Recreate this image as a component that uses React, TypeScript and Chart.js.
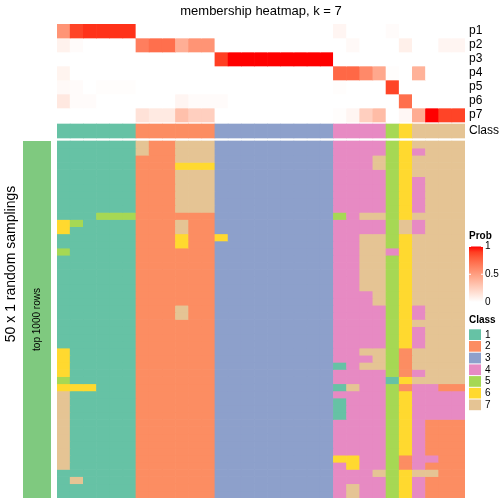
import React, { useEffect, useRef } from "react";
import { Chart, registerables } from "chart.js";

Chart.register(...registerables);

// ---------------- data ----------------
const sampleIds: string[] = [
  "s1", "s2", "s3", "s4", "s5", "s6", "s7", "s8", "s9", "s10", "s11",
  "s12", "s13", "s14", "s15", "s16", "s17", "s18", "s19", "s20", "s21",
  "s22", "s23", "s24", "s25", "s26", "s27", "s28", "s29", "s30", "s31",
];

const probLabels = ["p1", "p2", "p3", "p4", "p5", "p6", "p7"];

const p1 = [0.55, 0.88, 0.93, 0.93, 0.93, 0.93, 0, 0, 0, 0, 0, 0, 0, 0, 0, 0, 0, 0, 0, 0, 0, 0.05, 0, 0, 0, 0.02, 0, 0, 0, 0, 0];
const p2 = [0.07, 0.02, 0, 0, 0, 0, 0.65, 0.72, 0.72, 0.42, 0.55, 0.55, 0, 0, 0, 0, 0, 0, 0, 0, 0, 0, 0.03, 0, 0, 0, 0.08, 0, 0, 0.05, 0.05];
const p3 = [0, 0, 0, 0, 0, 0, 0, 0, 0, 0, 0, 0, 0.9, 1, 1, 1, 1, 1, 1, 1, 1, 0, 0, 0, 0, 0, 0, 0, 0, 0, 0];
const p4 = [0.06, 0, 0, 0, 0, 0, 0, 0, 0, 0, 0, 0, 0, 0, 0, 0, 0, 0, 0, 0, 0, 0.75, 0.75, 0.6, 0.45, 0.01, 0, 0.4, 0, 0, 0];
const p5 = [0.03, 0.02, 0, 0.01, 0.01, 0.01, 0, 0, 0, 0, 0, 0, 0, 0, 0, 0, 0, 0, 0, 0, 0, 0.01, 0, 0, 0, 0.88, 0, 0, 0, 0, 0];
const p6 = [0.12, 0.02, 0.02, 0, 0, 0, 0, 0, 0, 0.05, 0.02, 0.02, 0.02, 0, 0, 0, 0, 0, 0, 0, 0, 0, 0, 0, 0, 0, 0.72, 0, 0, 0, 0];
const p7 = [0, 0, 0, 0, 0, 0, 0.15, 0.11, 0.11, 0.33, 0.25, 0.25, 0, 0, 0, 0, 0, 0, 0, 0, 0, 0.01, 0.05, 0.25, 0.35, 0, 0.04, 0.43, 1, 0.88, 0.88];

const classAnno = [1, 1, 1, 1, 1, 1, 2, 2, 2, 2, 2, 2, 3, 3, 3, 3, 3, 3, 3, 3, 3, 4, 4, 4, 4, 5, 6, 7, 7, 7, 7];

// 50 random samplings (rows) x 31 samples (columns): predicted class per cell
const samplings: string[] = [
  "1111117227773333333334444567777",
  "1111117227773333333334444564777",
  "1111112227773333333334447567777",
  "1111112226663333333334447567777",
  "1111112227773333333334444567777",
  "1111112227773333333334444564777",
  "1111112227773333333334444564777",
  "1111112227773333333334444564777",
  "1111112227773333333334444564777",
  "1111112227773333333334444564777",
  "1115552222223333333335477567777",
  "6511112227223333333334444574777",
  "6111112227223333333334444574777",
  "1111112226226333333334477567777",
  "1111112226223333333334477567777",
  "5111112222223333333334477467777",
  "1111112222223333333334477567777",
  "1111112222223333333334477567777",
  "1111112222223333333334477567777",
  "1111112222223333333334477567777",
  "1111112222223333333334477567777",
  "1111112222223333333334447567777",
  "1111112222223333333334447567777",
  "1111112227223333333334444564777",
  "1111112227223333333334444564777",
  "1111112222223333333334444567777",
  "1111112222223333333334444564777",
  "1111112222223333333334444564777",
  "1111112222223333333334444564777",
  "6111112222223333333334477527777",
  "6111112222223333333334447527777",
  "6111112222223333333331477527777",
  "6111112222223333333334444524777",
  "5111112222223333333334444167777",
  "6661112222223333333331744524422",
  "7111112222223333333334444564444",
  "7111112222223333333331444564444",
  "7111112222223333333331444564444",
  "7111112222223333333331444564444",
  "7111112222223333333334444564222",
  "7111112222223333333334444564222",
  "7111112222223333333334444564222",
  "7111112222223333333334444564222",
  "7111112222223333333334444564222",
  "7111112222223333333336644524422",
  "7111112222223333333334644524222",
  "1111112222223333333334447567722",
  "1711112222223333333334444564222",
  "1111112222223333333334744564222",
  "1111112222223333333334744564222",
];

const classNames = ["1", "2", "3", "4", "5", "6", "7"];
const classColors = ["#66C2A5", "#FC8D62", "#8DA0CB", "#E78AC3", "#A6D854", "#FFD92F", "#E5C494"];
const probTicks = [1, 0.5, 0];

// ---------------- colour helpers (white -> red in LAB) ----------------
function lin(c: number) {
  c /= 255;
  return c <= 0.04045 ? c / 12.92 : Math.pow((c + 0.055) / 1.055, 2.4);
}
function unlin(c: number) {
  const v = c <= 0.0031308 ? 12.92 * c : 1.055 * Math.pow(c, 1 / 2.4) - 0.055;
  return Math.max(0, Math.min(255, Math.round(v * 255)));
}
function rgbToLab(r: number, g: number, b: number) {
  const R = lin(r), G = lin(g), B = lin(b);
  const X = (0.4124 * R + 0.3576 * G + 0.1805 * B) / 0.95047;
  const Y = 0.2126 * R + 0.7152 * G + 0.0722 * B;
  const Z = (0.0193 * R + 0.1192 * G + 0.9505 * B) / 1.08883;
  const f = (t: number) => (t > 0.008856 ? Math.cbrt(t) : 7.787 * t + 16 / 116);
  const fx = f(X), fy = f(Y), fz = f(Z);
  return [116 * fy - 16, 500 * (fx - fy), 200 * (fy - fz)];
}
function labToRgb(L: number, a: number, b: number) {
  const fy = (L + 16) / 116, fx = fy + a / 500, fz = fy - b / 200;
  const inv = (t: number) => (t * t * t > 0.008856 ? t * t * t : (t - 16 / 116) / 7.787);
  const X = inv(fx) * 0.95047, Y = inv(fy), Z = inv(fz) * 1.08883;
  const R = 3.2406 * X - 1.5372 * Y - 0.4986 * Z;
  const G = -0.9689 * X + 1.8758 * Y + 0.0415 * Z;
  const B = 0.0557 * X - 0.204 * Y + 1.057 * Z;
  return `rgb(${unlin(R)},${unlin(G)},${unlin(B)})`;
}
const LAB_WHITE = rgbToLab(255, 255, 255);
const LAB_RED = rgbToLab(255, 0, 0);
function probColor(v: number) {
  const t = Math.max(0, Math.min(1, v));
  return labToRgb(
    LAB_WHITE[0] + (LAB_RED[0] - LAB_WHITE[0]) * t,
    LAB_WHITE[1] + (LAB_RED[1] - LAB_WHITE[1]) * t,
    LAB_WHITE[2] + (LAB_RED[2] - LAB_WHITE[2]) * t
  );
}

// ---------------- layout (in y-scale units = px below the top of the body) ----------------
const PROB_ROW_H = 14;
const CLASS_TOP = 100;
const CLASS_BOTTOM = 114;
const MAIN_TOP = 117;
const MAIN_BOTTOM = 474;
const FONT = "'Liberation Sans', Arial, Helvetica, sans-serif";

export default function App() {
  const canvasRef = useRef<HTMLCanvasElement | null>(null);

  useEffect(() => {
    if (!canvasRef.current) return;
    const probRows = [p1, p2, p3, p4, p5, p6, p7];
    const nRows = samplings.length;
    const rowH = (MAIN_BOTTOM - MAIN_TOP) / nRows;

    const datasets: any[] = [];
    probRows.forEach((row, i) => {
      datasets.push({
        label: probLabels[i],
        data: row.map(() => [i * PROB_ROW_H, (i + 1) * PROB_ROW_H]),
        backgroundColor: row.map((v) => probColor(v)),
      });
    });
    datasets.push({
      label: "Class",
      data: classAnno.map(() => [CLASS_TOP, CLASS_BOTTOM]),
      backgroundColor: classAnno.map((c) => classColors[c - 1]),
    });
    samplings.forEach((row, r) => {
      const y0 = MAIN_TOP + r * rowH;
      datasets.push({
        label: `sampling ${r + 1}`,
        data: row.split("").map(() => [y0, y0 + rowH]),
        backgroundColor: row.split("").map((c) => classColors[Number(c) - 1]),
      });
    });

    const decorations = {
      id: "decorations",
      afterDraw(chart: any) {
        const ctx = chart.ctx as CanvasRenderingContext2D;
        const area = chart.chartArea;
        const ys = chart.scales.y;
        ctx.save();
        ctx.fillStyle = "#000";

        // title
        ctx.font = `13px ${FONT}`;
        ctx.textAlign = "center";
        ctx.textBaseline = "middle";
        ctx.fillText("membership heatmap, k = 7", (area.left + area.right) / 2, 11);

        // row labels
        ctx.font = `12px ${FONT}`;
        ctx.textAlign = "left";
        probLabels.forEach((lab, i) => {
          ctx.fillText(lab, area.right + 4, ys.getPixelForValue(i * PROB_ROW_H + PROB_ROW_H / 2));
        });
        ctx.fillText("Class", area.right + 4, ys.getPixelForValue((CLASS_TOP + CLASS_BOTTOM) / 2));

        // left annotation bar
        const mTop = ys.getPixelForValue(MAIN_TOP);
        const mBot = ys.getPixelForValue(MAIN_BOTTOM);
        ctx.fillStyle = "#7FC97F";
        ctx.fillRect(23, mTop, 28, mBot - mTop);

        ctx.fillStyle = "#000";
        ctx.save();
        ctx.translate(37, (mTop + mBot) / 2);
        ctx.rotate(-Math.PI / 2);
        ctx.font = `10px ${FONT}`;
        ctx.textAlign = "center";
        ctx.textBaseline = "middle";
        ctx.fillText("top 1000 rows", 0, 0);
        ctx.restore();

        ctx.save();
        ctx.translate(11, 264);
        ctx.rotate(-Math.PI / 2);
        ctx.font = `14px ${FONT}`;
        ctx.textAlign = "center";
        ctx.textBaseline = "middle";
        ctx.fillText("50 x 1 random samplings", 0, 0);
        ctx.restore();

        // Prob legend
        const lx = 469;
        ctx.font = `bold 10px ${FONT}`;
        ctx.textAlign = "left";
        ctx.textBaseline = "middle";
        ctx.fillText("Prob", lx, 236);
        const gTop = 246.5, gBot = 302;
        const grad = ctx.createLinearGradient(0, gTop, 0, gBot);
        for (let k = 0; k <= 10; k++) grad.addColorStop(k / 10, probColor(1 - k / 10));
        ctx.fillStyle = grad;
        ctx.fillRect(lx, gTop, 14, gBot - gTop);
        ctx.font = `10px ${FONT}`;
        probTicks.forEach((v) => {
          const y = gBot - (gBot - gTop) * v;
          ctx.strokeStyle = "#fff";
          ctx.lineWidth = 1;
          ctx.beginPath();
          ctx.moveTo(lx, y);
          ctx.lineTo(lx + 2, y);
          ctx.moveTo(lx + 12, y);
          ctx.lineTo(lx + 14, y);
          ctx.stroke();
          ctx.fillStyle = "#000";
          ctx.fillText(String(v), lx + 16, y);
        });

        // Class legend
        ctx.font = `bold 10px ${FONT}`;
        ctx.fillText("Class", lx, 320);
        ctx.font = `10px ${FONT}`;
        classNames.forEach((nm, k) => {
          const y = 329.3 + k * 11.7;
          ctx.fillStyle = classColors[k];
          ctx.fillRect(lx, y, 12, 10.7);
          ctx.fillStyle = "#000";
          ctx.fillText(nm, lx + 16, y + 5.6);
        });
        ctx.restore();
      },
    };

    const chart = new Chart(canvasRef.current, {
      type: "bar",
      data: { labels: sampleIds, datasets },
      options: {
        animation: false,
        responsive: false,
        devicePixelRatio: 1,
        layout: { padding: { left: 57, right: 39, top: 24, bottom: 6 } },
        datasets: {
          bar: {
            grouped: false,
            categoryPercentage: 1,
            barPercentage: 1,
            borderWidth: 0,
          },
        },
        scales: {
          x: { type: "category", display: false, offset: true },
          y: { type: "linear", display: false, min: 0, max: 474, reverse: true },
        },
        plugins: {
          legend: { display: false },
          tooltip: { enabled: false },
          title: { display: false },
        },
      } as any,
      plugins: [decorations],
    });
    return () => chart.destroy();
  }, []);

  return (
    <div style={{ position: "absolute", left: 0, top: 0, width: 504, height: 504, background: "#fff" }}>
      <canvas ref={canvasRef} width={504} height={504} style={{ width: 504, height: 504 }} />
    </div>
  );
}
